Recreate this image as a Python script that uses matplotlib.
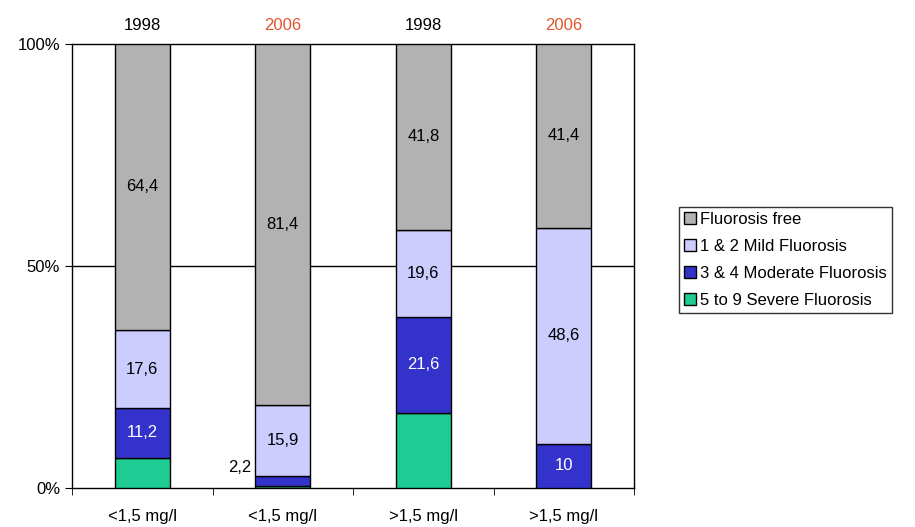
import numpy as np
import matplotlib
matplotlib.use("Agg")
import matplotlib.pyplot as plt

plt.rcParams['font.family'] = ['Liberation Sans', 'DejaVu Sans']

# data
categories = ['<1,5 mg/l', '<1,5 mg/l', '>1,5 mg/l', '>1,5 mg/l']
years = ['1998', '2006', '1998', '2006']
year_colors = ['black', '#e0552b', 'black', '#e0552b']
series = ['Fluorosis free', '1 & 2 Mild Fluorosis', '3 & 4 Moderate Fluorosis', '5 to 9 Severe Fluorosis']
severe = [6.8, 0.5, 17.0, 0.0]
moderate = [11.2, 2.2, 21.6, 10.0]
mild = [17.6, 15.9, 19.6, 48.6]
free = [64.4, 81.4, 41.8, 41.4]
colors = ['#b2b2b2', '#ccccff', '#3333cc', '#1ecb93']

FS = 12

fig = plt.figure(figsize=(9.15, 5.27), dpi=100)
ax = fig.add_axes([0.0787, 0.074, 0.6142, 0.8425])

x = np.arange(len(categories))
w = 0.39
stack = [severe, moderate, mild, free]
names = series[::-1]
cols = colors[::-1]
bottom = np.zeros(len(x))
handles = {}
for vals, name, c in zip(stack, names, cols):
    vals = np.array(vals)
    b = ax.bar(x, vals, w, bottom=bottom, color=c, edgecolor='black', linewidth=1, label=name, zorder=3)
    handles[name] = b
    bottom = bottom + vals
bottoms = np.vstack([np.zeros(4), np.cumsum(stack, axis=0)[:-1]])

# data labels
txt = dict(ha='center', va='center', fontsize=FS, zorder=4)
for i in range(4):
    ax.text(x[i], bottoms[3][i] + free[i] / 2, f"{free[i]:.1f}".replace('.', ','), color='black', **txt)
    ax.text(x[i], bottoms[2][i] + mild[i] / 2, f"{mild[i]:.1f}".replace('.', ','), color='black', **txt)
    if moderate[i] >= 5:
        lab = f"{moderate[i]:g}".replace('.', ',')
        ax.text(x[i], bottoms[1][i] + moderate[i] / 2, lab, color='white', **txt)
    elif moderate[i] > 0:
        ax.text(x[i] - w / 2 - 0.03, bottoms[1][i] + moderate[i] + 2, f"{moderate[i]:.1f}".replace('.', ','),
                color='black', ha='right', va='center', fontsize=FS)

for i in range(4):
    ax.text(x[i], 104.2, years[i], color=year_colors[i], ha='center', va='center', fontsize=FS)

ax.set_xlim(-0.5, 3.5)
ax.set_ylim(0, 100)
ax.set_yticks([0, 50, 100])
ax.set_yticklabels(['0%', '50%', '100%'])
ax.axhline(50, color='black', linewidth=1, zorder=1)
ax.set_xticks(x)
ax.set_xticklabels(categories)
ax.set_xticks(np.arange(-0.5, 4, 1), minor=True)
ax.tick_params(axis='x', which='major', length=0, pad=15, labelsize=FS)
ax.tick_params(axis='x', which='minor', length=5, direction='out')
ax.tick_params(axis='y', length=5, labelsize=FS)
for s in ax.spines.values():
    s.set_color('black')
    s.set_linewidth(1)

leg = fig.legend([handles[n] for n in series], series, loc='upper left',
                 bbox_to_anchor=(0.742, 0.608), frameon=True, fancybox=False,
                 edgecolor='black', fontsize=FS, handlelength=0.7, handleheight=0.7,
                 handletextpad=0.25, labelspacing=0.72, borderpad=0.3, borderaxespad=0)
leg.get_frame().set_linewidth(1)

fig.savefig('out.png', dpi=100)
